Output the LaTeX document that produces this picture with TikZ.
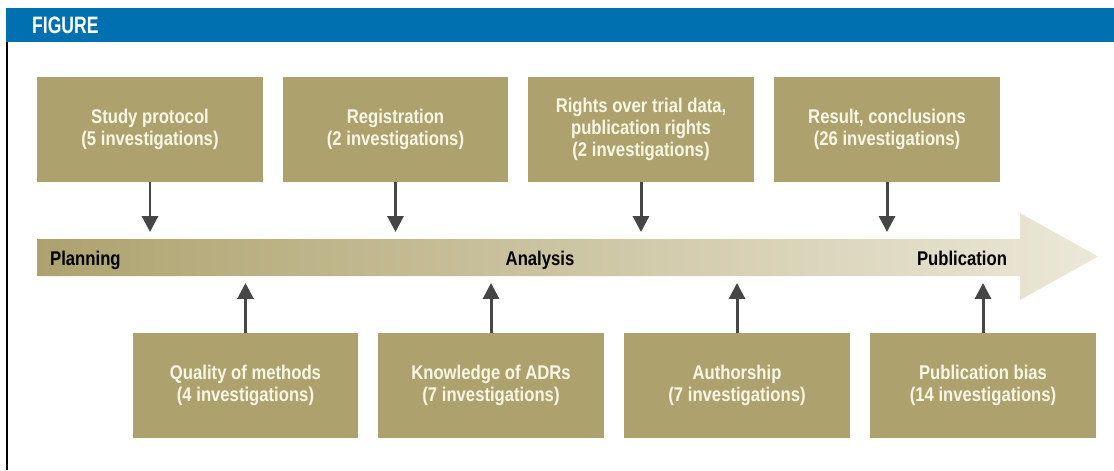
\documentclass[tikz,border=0pt]{standalone}
\usepackage{fontspec}
\setmainfont{Liberation Sans}[FakeStretch=0.84]
\newfontfamily\headfont{Liberation Sans}[FakeStretch=0.74]
\usetikzlibrary{arrows.meta,calc,positioning}
\definecolor{figblue}{RGB}{0,112,176}
\definecolor{khaki}{RGB}{173,162,110}
\definecolor{pale}{RGB}{236,232,216}
\definecolor{cream}{RGB}{250,246,228}
\definecolor{arrgray}{RGB}{70,70,70}
\tikzset{>={Triangle[width=9pt,length=9pt]}}
\tikzset{
  stage/.style={fill=khaki, text=cream, align=center, minimum width=4.52cm,
    minimum height=2.1cm, inner sep=0pt, font=\bfseries\fontsize{11.3}{12.6}\selectfont},
  link/.style={->, draw=arrgray, line width=1.7pt, shorten >=0.14cm},
  phase/.style={font=\bfseries\fontsize{11.3}{13}\selectfont, text=black,
    text height=1.6ex, text depth=0.45ex}
}

\begin{document}
\begin{tikzpicture}[x=0.02cm,y=-0.02cm]
\useasboundingbox (0,0) rectangle (1114,470);
% header
\fill[figblue] (6,8) rectangle (1114,42);
\node[anchor=west, text=white, font=\headfont\bfseries\fontsize{13.5}{14}\selectfont] (title) at (26,25) {FIGURE};
\draw[black, line width=1.1pt] (7,42) -- (7,470);
% the time line
\shade[left color=khaki, right color=pale] (37,239) -- (1020,239) -- (1020,213) -- (1098,256.5)
  -- (1020,300) -- (1020,276) -- (37,276) -- cycle;
\coordinate (bartop) at (0,239);
\coordinate (barbot) at (0,276);
\node[phase, anchor=west] (p1) at (44,260) {Planning};
\node[phase] (p2) at (540,260) {Analysis};
\node[phase] (p3) at (962,260) {Publication};
% upper boxes
\node[stage] (s1) at (150,129.5) {Study protocol\\(5 investigations)};
\node[stage] (s2) at (395.5,129.5) {Registration\\(2 investigations)};
\node[stage] (s3) at (641,129.5) {Rights over trial data,\\publication rights\\(2 investigations)};
\node[stage] (s4) at (887,129.5) {Result, conclusions\\(26 investigations)};
% lower boxes
\node[stage] (b1) at (245.5,385.5) {Quality of methods\\(4 investigations)};
\node[stage] (b2) at (491,385.5) {Knowledge of ADRs\\(7 investigations)};
\node[stage] (b3) at (737,385.5) {Authorship\\(7 investigations)};
\node[stage] (b4) at (983,385.5) {Publication bias\\(14 investigations)};
% arrows
\foreach \n in {s1,s2,s3,s4}
  \draw[link] (\n.south) -- (\n.south |- bartop);
\foreach \n in {b1,b2,b3,b4}
  \draw[link] (\n.north) -- (\n.north |- barbot);
\end{tikzpicture}
\end{document}
